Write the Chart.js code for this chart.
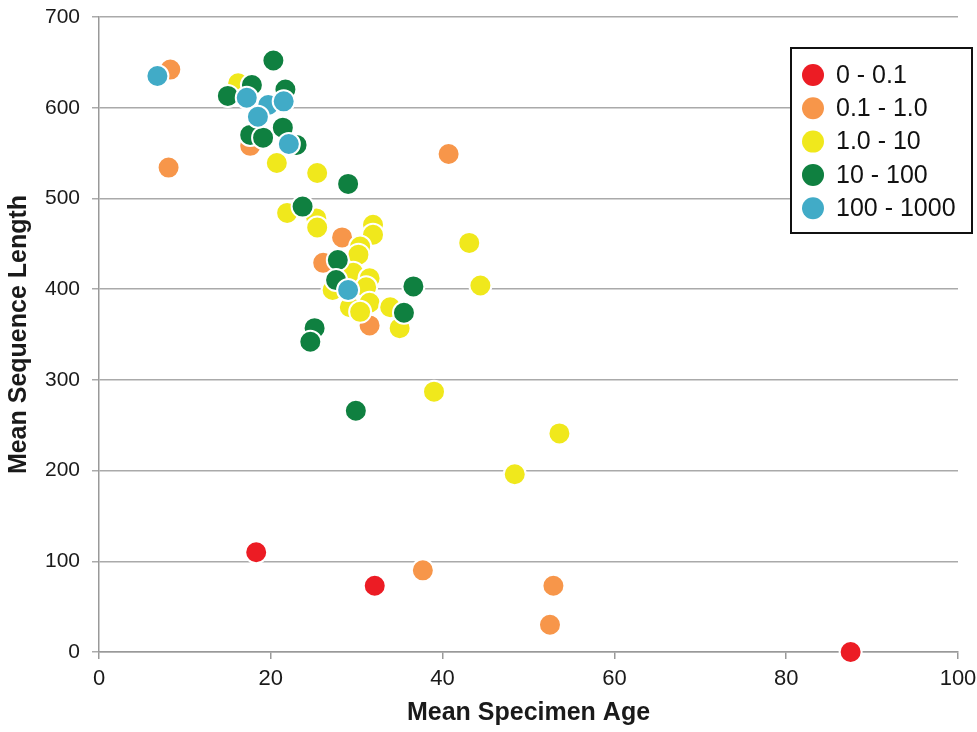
<!DOCTYPE html>
<html>
<head>
<meta charset="utf-8">
<script src="https://cdn.jsdelivr.net/npm/chart.js@4/dist/chart.umd.min.js"></script>
<style>
  html, body { margin: 0; padding: 0; background: #fff; }
  #wrap { width: 977px; height: 732px; }
</style>
</head>
<body>
<div id="wrap"><canvas id="myChart"></canvas></div>
<script>
// data: [age, length]
const groups = ['0 - 0.1', '0.1 - 1.0', '1.0 - 10', '10 - 100', '100 - 1000'];
const colors = ['#ec1c24', '#f7964a', '#f0e81c', '#0f8040', '#41abc7'];

const red = [[18.3, 110], [32.1, 73], [87.5, 0]];
const orange = [[8.3, 642], [8.1, 534], [17.6, 558], [40.7, 549], [28.3, 457], [26.1, 429],
  [31.5, 360], [37.7, 90], [52.9, 73], [52.5, 30]];
const yellow = [[16.2, 627], [20.7, 539], [25.4, 528], [21.9, 484], [25.3, 478], [25.4, 468],
  [31.9, 471], [31.9, 460], [30.4, 447], [30.2, 438], [29.6, 418], [31.5, 412], [27.2, 399],
  [31.1, 402], [29.2, 380], [31.5, 385], [33.9, 380], [35.0, 357], [30.4, 375], [39.0, 287],
  [43.1, 451], [44.4, 404], [48.4, 196], [53.6, 241]];
const green = [[20.3, 652], [15.0, 613], [17.8, 625], [21.7, 620], [21.4, 578], [17.6, 570],
  [19.1, 567], [23.0, 559], [23.7, 491], [29.0, 516], [27.8, 432], [27.6, 410], [36.6, 403],
  [35.5, 374], [25.1, 357], [24.6, 342], [29.9, 266]];
const blue = [[6.8, 635], [17.2, 611], [19.7, 603], [21.5, 607], [18.5, 590], [22.1, 560], [29.0, 399]];

const series = [red, orange, yellow, green, blue];
const drawOrder = [5, 4, 3, 2, 1]; // blue ends up on top

const datasets = series.map(function (s, i) {
  return {
    label: groups[i],
    data: s.map(function (p) { return { x: p[0], y: p[1] }; }),
    backgroundColor: colors[i],
    borderColor: '#ffffff',
    borderWidth: 2,
    pointRadius: 11,
    pointHoverRadius: 11,
    order: drawOrder[i]
  };
});

// legend box drawn inside the plot, like the original
const boxLegend = {
  id: 'boxLegend',
  afterDraw: function (chart) {
    const c = chart.ctx;
    const x0 = 791, y0 = 48, w = 181, h = 185;
    c.save();
    c.fillStyle = '#fff';
    c.fillRect(x0, y0, w, h);
    c.strokeStyle = '#111';
    c.lineWidth = 2;
    c.strokeRect(x0, y0, w, h);
    c.font = '25px "Liberation Sans", Arial, sans-serif';
    c.textBaseline = 'middle';
    chart.data.datasets.forEach(function (ds, i) {
      const cy = y0 + 27 + i * 33.3;
      c.beginPath();
      c.arc(x0 + 22, cy, 11, 0, Math.PI * 2);
      c.fillStyle = ds.backgroundColor;
      c.fill();
      c.fillStyle = '#111';
      c.fillText(ds.label, x0 + 45, cy + 1);
    });
    c.restore();
  }
};

Chart.defaults.font.family = '"Liberation Sans", Arial, sans-serif';
Chart.defaults.color = '#1a1a1a';

new Chart(document.getElementById('myChart'), {
  type: 'scatter',
  data: { datasets: datasets },
  options: {
    responsive: true,
    maintainAspectRatio: false,
    animation: false,
    clip: false,
    layout: { padding: { top: 17, right: 19, left: 0, bottom: 0 } },
    plugins: {
      legend: { display: false },
      tooltip: { enabled: false }
    },
    scales: {
      x: {
        type: 'linear',
        min: 0,
        max: 100,
        ticks: { stepSize: 20, font: { size: 22 }, padding: 7, color: '#1a1a1a' },
        grid: { drawOnChartArea: false, color: '#999', tickLength: 7, lineWidth: 1.5 },
        border: { color: '#999', width: 1.5 },
        title: { display: true, text: 'Mean Specimen Age', font: { size: 25, weight: 'bold' }, color: '#1a1a1a', padding: { top: 0 } },
        afterFit: function (a) { a.height = 80; a.paddingLeft = 0; a.paddingRight = 0; }
      },
      y: {
        min: 0,
        max: 700,
        ticks: { stepSize: 100, font: { size: 21 }, padding: 12, color: '#1a1a1a' },
        grid: { color: '#aaa', tickLength: 7, lineWidth: 1.5 },
        border: { color: '#999', width: 1.5 },
        title: { display: true, text: 'Mean Sequence Length', font: { size: 25, weight: 'bold' }, color: '#1a1a1a', padding: { bottom: 0 } },
        afterFit: function (a) { a.width = 99; a.paddingTop = 0; a.paddingBottom = 0; }
      }
    }
  },
  plugins: [boxLegend]
});
</script>
</body>
</html>
